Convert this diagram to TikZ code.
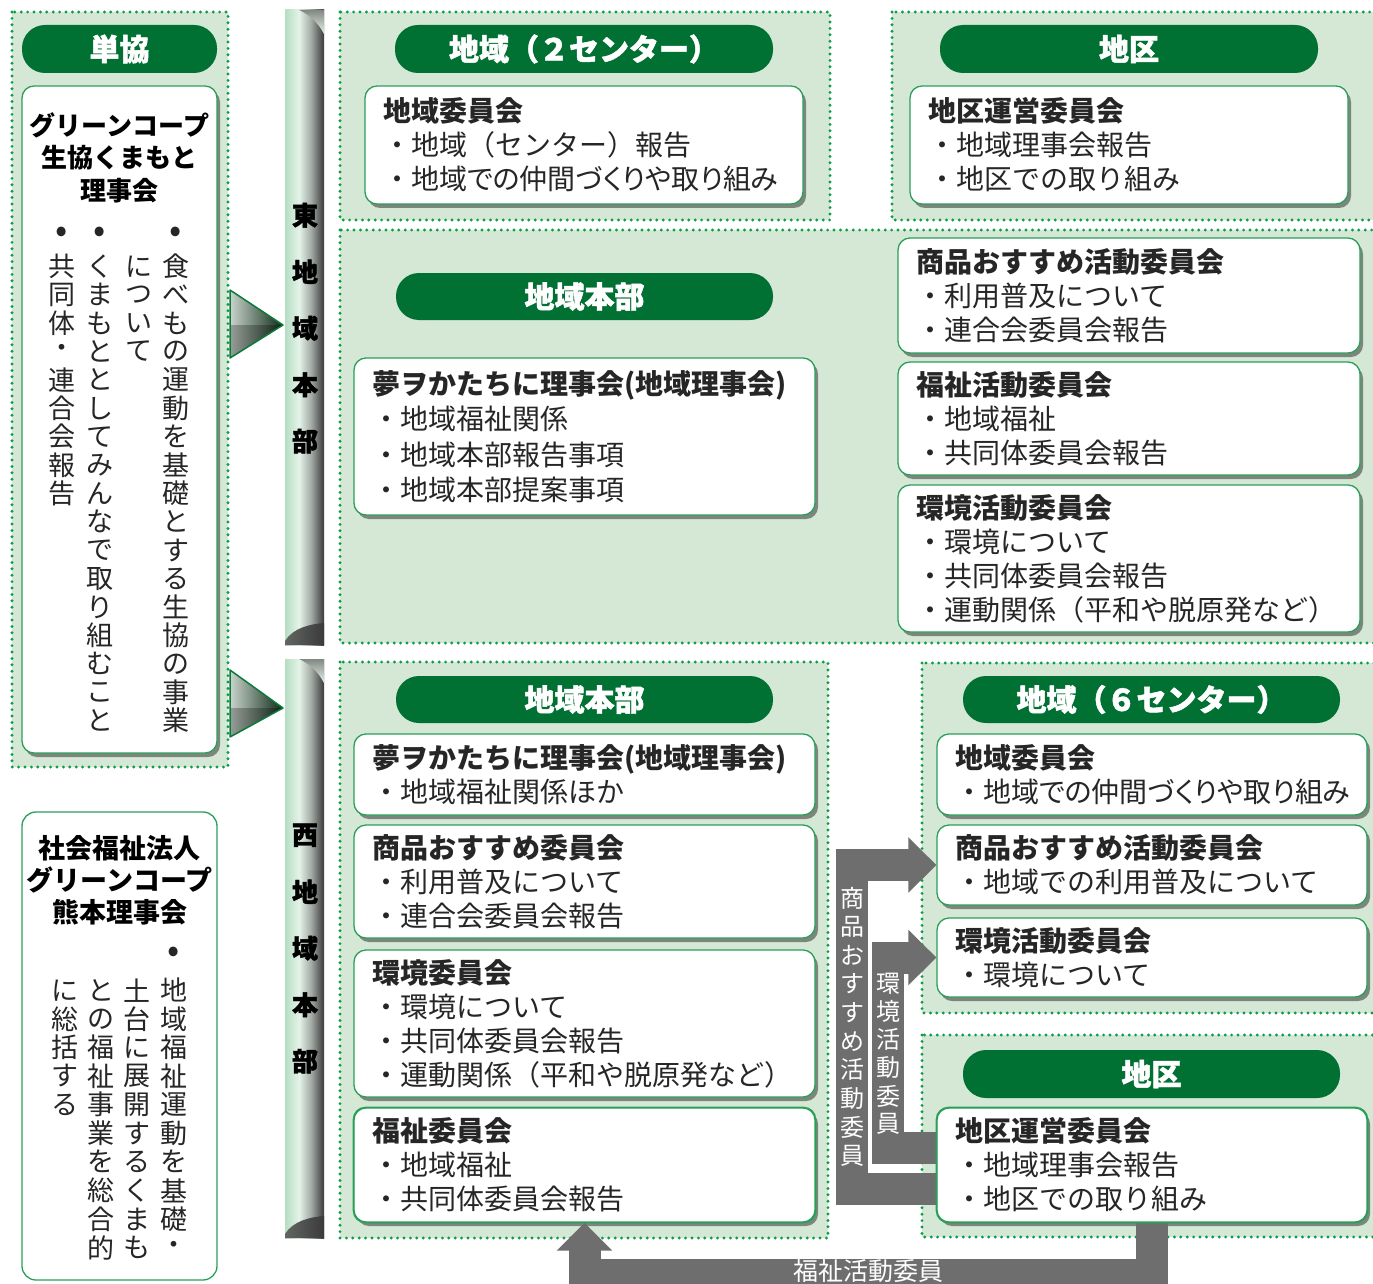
\documentclass[tikz,border=0pt]{standalone}
\usepackage{fontspec}
\setmainfont{Noto Sans CJK JP}
\usetikzlibrary{shadows,arrows.meta}
\definecolor{panelbg}{HTML}{D5E8D6}
\definecolor{dotg}{HTML}{0A9E45}
\definecolor{pillg}{HTML}{007033}
\definecolor{boxg}{HTML}{2A9F58}
\definecolor{grayA}{HTML}{6E6E6E}
\definecolor{txt}{HTML}{262626}
\definecolor{cylA}{HTML}{B5DEC3}
\definecolor{cylB}{HTML}{E4F3E8}
\definecolor{cylC}{HTML}{A3ABA5}
\definecolor{cylD}{HTML}{3A3A3A}
\definecolor{triL}{HTML}{C9D3CB}
\definecolor{triD}{HTML}{0E2A18}
\definecolor{triE}{HTML}{0B7A3A}
\makeatletter
\newcommand\vtxt[2]{\vbox{\offinterlineskip\@tfor\vt@c:=#2\do{\vbox to #1{\vss\hbox to 1em{\hss\vt@c\hss}\vss}}}}
\makeatother
\newcommand\bl{\makebox[1em]{・}}
\newcommand\pp[1]{{\addfontfeatures{RawFeature=+palt}#1}}
\newcommand\heavy{\bfseries\addfontfeatures{FakeBold=1.6}}
\newcommand\wbox[7][]{%
 \pgfmathsetmacro\wbw{#5-#3}\pgfmathsetmacro\wbh{#6-#4}\pgfmathsetmacro\wbt{#5-#3-36}%
 \pgfmathsetmacro\wbx{(#3+#5)/2}\pgfmathsetmacro\wby{(#4+#6)/2}%
 \node[wb, minimum width=\wbw pt, minimum height=\wbh pt, text width=\wbt pt, #1] (#2) at (\wbx,\wby) {#7};}
\newcommand\pill[6]{%
 \pgfmathsetmacro\wbw{#4-#2}\pgfmathsetmacro\wbh{#5-#3}%
 \pgfmathsetmacro\wbx{(#2+#4)/2}\pgfmathsetmacro\wby{(#3+#5)/2}%
 \node[pillst, minimum width=\wbw pt, minimum height=\wbh pt] (#1) at (\wbx,\wby) {#6};}
\begin{document}
\begin{tikzpicture}[x=1pt,y=-1pt,
  panel/.style={fill=panelbg, draw=dotg, line width=3.2pt, dash pattern=on 0pt off 6.4pt, line cap=round},
  pillst/.style={fill=pillg, text=white, rounded corners=23pt, inner sep=0pt, font=\fontsize{30}{30}\selectfont\heavy},
  wb/.style={draw=boxg, line width=1.3pt, fill=white, rounded corners=12pt, drop shadow={shadow xshift=3pt, shadow yshift=-4pt, fill=black!85, opacity=.5}, align=left, inner xsep=18pt, inner ysep=0pt, text=txt, font=\fontsize{28}{34}\selectfont},
  garrow/.style={draw=grayA, line width=32pt, -{Triangle[length=28pt, width=54pt]}},
  glabel/.style={text=white, inner sep=0pt, anchor=north, font=\fontsize{24}{24}\selectfont},
  vcol/.style={inner sep=0pt, anchor=north, text=txt, font=\fontsize{27}{27}\selectfont},
  vbul/.style={inner sep=0pt, anchor=center, text=txt, font=\fontsize{36}{36}\selectfont},
  barlbl/.style={inner sep=0pt, anchor=north, font=\fontsize{26}{26}\selectfont\heavy}]
\useasboundingbox (0,0) rectangle (1373,1284);
\fill[white] (0,0) rectangle (1373,1284);

% panels
\draw[panel] (12,12) rectangle (228,767);
\draw[panel] (340,12) rectangle (830,220);
\draw[panel] (892,12) rectangle (1390,220);
\draw[panel] (340,230) rectangle (1390,643);
\draw[panel] (340,662) rectangle (828,1238);
\draw[panel] (922,663) rectangle (1390,1013);
\draw[panel] (922,1035) rectangle (1390,1237);

% cylinder bars
\foreach \ya/\yb in {10/645, 659/1238}{
  \shade[left color=cylA, right color=cylB] (285,\ya) rectangle (299,\yb);
  \shade[left color=cylB, right color=cylC] (299,\ya) rectangle (311,\yb);
  \shade[left color=cylC, right color=cylD] (311,\ya) rectangle (324,\yb);
  \shade[left color=cylC!60!black, right color=cylD] (285,\yb) -- (285,\yb-4) .. controls (293,\yb-17) and (310,\yb-21) .. (324,\yb-22) -- (324,\yb) -- cycle;
  \shade[top color=cylC!80!black, bottom color=cylB] (299,\ya) -- (324,\ya) -- (324,\ya+24) .. controls (318,\ya+12) and (308,\ya+4) .. (299,\ya) -- cycle;
}
\node[barlbl] (eastl) at (305,186.75) {\vtxt{56.5pt}{東地域本部}};
\node[barlbl] (westl) at (305,806.75) {\vtxt{56.5pt}{西地域本部}};

% 3D triangles
\foreach \ya/\yt/\yb in {290/325/358, 670/708/737}{
  \shade[left color=triL, right color=triD] (230,\ya) -- (283,\yt) -- (230,\yb) -- cycle;
  \fill[black, opacity=.25] (230,\yt) -- (283,\yt) -- (230,\yb) -- cycle;
  \draw[triE, line width=1.5pt, line join=round] (230,\ya) -- (283,\yt) -- (230,\yb) -- cycle;
}

% white boxes and pills
\wbox{tkbox}{22}{86}{217}{753}{}
\node[draw=boxg, line width=1.3pt, rounded corners=14pt, fill=white, minimum width=195pt, minimum height=468pt] (skbox) at (119.5,1046) {};

\pill{ptk}{22}{25}{217}{73}{単協}
\pill{pe2}{395}{25}{773}{73}{地域（２センター）}
\pill{pek}{940}{25}{1318}{73}{地区}
\pill{peh}{396}{273}{773}{320}{地域本部}
\pill{pwh}{396}{676}{773}{723}{地域本部}
\pill{pw6}{963}{676}{1340}{723}{地域（６センター）}
\pill{pwk}{963}{1050}{1340}{1098}{地区}

\wbox{eiA}{365}{86}{803}{204}{\textbf{地域委員会}\\\bl 地域（センター）報告\\\bl\pp{地域での仲間づくりや取り組み}}
\wbox{ekA}{910}{86}{1348}{204}{\textbf{地区運営委員会}\\\bl 地域理事会報告\\\bl 地区での取り組み}
\wbox[font=\fontsize{28}{35.5}\selectfont]{eyR}{354}{358}{815}{515}{\textbf{夢ヲかたちに理事会(地域理事会)}\\\bl 地域福祉関係\\\bl 地域本部報告事項\\\bl 地域本部提案事項}
\wbox{esA}{898}{238}{1360}{353}{\textbf{商品おすすめ活動委員会}\\\bl 利用普及について\\\bl 連合会委員会報告}
\wbox{efA}{898}{362}{1360}{475}{\textbf{福祉活動委員会}\\\bl 地域福祉\\\bl 共同体委員会報告}
\wbox{ekkA}{898}{485}{1360}{632}{\textbf{環境活動委員会}\\\bl 環境について\\\bl 共同体委員会報告\\\bl 運動関係（平和や脱原発など）}

\wbox{wyR}{354}{734}{815}{815}{\textbf{夢ヲかたちに理事会(地域理事会)}\\\bl 地域福祉関係ほか}
\wbox{wsI}{354}{825}{815}{938}{\textbf{商品おすすめ委員会}\\\bl 利用普及について\\\bl 連合会委員会報告}
\wbox{wkI}{354}{950}{815}{1097}{\textbf{環境委員会}\\\bl 環境について\\\bl 共同体委員会報告\\\bl 運動関係（平和や脱原発など）}
\wbox{fkW}{354}{1108}{815}{1222}{\textbf{福祉委員会}\\\bl 地域福祉\\\bl 共同体委員会報告}

\wbox{wiA}{937}{734}{1367}{815}{\textbf{地域委員会}\\\bl\pp{地域での仲間づくりや取り組み}}
\wbox{sh6}{937}{825}{1367}{905}{\textbf{商品おすすめ活動委員会}\\\bl 地域での利用普及について}
\wbox{env6}{937}{918}{1367}{997}{\textbf{環境活動委員会}\\\bl 環境について}
\wbox{kuW}{937}{1108}{1367}{1222}{\textbf{地区運営委員会}\\\bl 地域理事会報告\\\bl 地区での取り組み}

% gray connectors
\draw[garrow] ([yshift=-24pt]kuW.west) -| ([xshift=-84.5pt]sh6.west) -- (sh6.west);
\draw[garrow] ([yshift=17.5pt]kuW.west) -| ([xshift=-48.5pt]env6.west) -- (env6.west);
\draw[garrow] (kuW.south) |- ([yshift=-52pt]fkW.south) -- (fkW.south);
% redraw box borders over the bar ends
\draw[boxg, line width=1.3pt, rounded corners=12pt] (kuW.north west) rectangle (kuW.south east);
\draw[boxg, line width=1.3pt, rounded corners=12pt] (fkW.north west) rectangle (fkW.south east);

\node[glabel] (lblA) at (852.5,883.7) {\vtxt{28.6pt}{商品おすすめ活動委員}};
\node[glabel] (lblB) at (888.5,969) {\vtxt{28.2pt}{環境活動委員}};
\node[glabel, anchor=center, font=\fontsize{25}{25}\selectfont] (lblC) at (868,1271) {福祉活動委員};

% 単協 box contents
\node[font=\fontsize{26}{32.5}\selectfont\bfseries, align=center, inner sep=0pt] (tkt) at (119.5,157.5) {グリーンコープ\\生協くまもと\\理事会};
\node[vbul] (tkb1) at (176,235) {•};
\node[vbul] (tkb3) at (100,235) {•};
\node[vbul] (tkb4) at (62,235) {•};
\node[vcol] (tkc1) at (176,251.8) {\vtxt{28.4pt}{食べもの運動を基礎とする生協の事業}};
\node[vcol] (tkc2) at (139,251.8) {\vtxt{28.4pt}{について}};
\node[vcol] (tkc3) at (100,251.8) {\vtxt{28.4pt}{くまもととしてみんなで取り組むこと}};
\node[vcol] (tkc4) at (62,251.8) {\vtxt{28.4pt}{共同体・連合会報告}};

% 社会福祉法人 box contents
\node[font=\fontsize{27}{32}\selectfont\bfseries, align=center, inner sep=0pt] (skt) at (119.5,880) {社会福祉法人\\グリーンコープ\\熊本理事会};
\node[vbul] (skb) at (174,955) {•};
\node[vcol] (skc1) at (174,975.7) {\vtxt{28.6pt}{地域福祉運動を基礎・}};
\node[vcol] (skc2) at (137,975.7) {\vtxt{28.6pt}{土台に展開するくまも}};
\node[vcol] (skc3) at (101,975.7) {\vtxt{28.6pt}{との福祉事業を総合的}};
\node[vcol] (skc4) at (65,975.7) {\vtxt{28.6pt}{に総括する}};
\end{tikzpicture}
\end{document}
